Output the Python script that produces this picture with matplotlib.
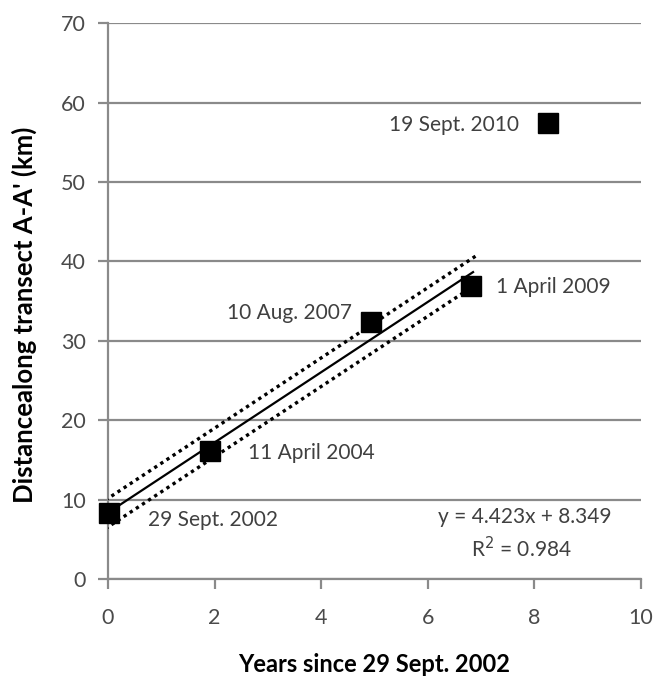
import matplotlib
matplotlib.use("Agg")
import matplotlib.pyplot as plt
import numpy as np

plt.rcParams['font.family'] = ['Lato', 'DejaVu Sans']

years = [0.02, 1.91, 4.93, 6.81, 8.25]
distance = [8.3, 16.1, 32.4, 36.9, 57.4]
dates = ["29 Sept. 2002", "11 April 2004", "10 Aug. 2007", "1 April 2009", "19 Sept. 2010"]
slope = 4.423
intercept = 8.349
r2 = 0.984
fit_x = [0.0, 6.85]
band_offset = 1.8
band_x = [-0.05, 6.9]

fig = plt.figure(figsize=(6.56, 6.8), dpi=100)
ax = fig.add_axes([0.1646, 0.1485, 0.977 - 0.1646, 0.966 - 0.1485])

grey = '#8a8a8a'
txt = '#404040'
ax.set_xlim(0, 10)
ax.set_ylim(0, 70)
ax.set_xticks(np.arange(0, 11, 2))
ax.set_yticks(np.arange(0, 71, 10))
ax.yaxis.grid(True, color=grey, linewidth=1.6)
ax.set_axisbelow(True)
for s in ['top', 'right']:
    ax.spines[s].set_visible(False)
for s in ['left', 'bottom']:
    ax.spines[s].set_color(grey)
    ax.spines[s].set_linewidth(1.6)
ax.tick_params(axis='both', direction='out', length=7, width=1.6, color=grey,
               labelsize=15.5, labelcolor='#4a4a4a')
ax.tick_params(axis='x', pad=14)
ax.tick_params(axis='y', pad=9)

fx = np.array(fit_x)
ax.plot(fx, slope * fx + intercept, color='black', linewidth=1.6, zorder=3)
bx = np.array(band_x)
ax.plot(bx, slope * bx + intercept + band_offset, color='black', linestyle=(0, (1, 1.2)), linewidth=2.4, zorder=3)
ax.plot(bx, slope * bx + intercept - band_offset, color='black', linestyle=(0, (1, 1.2)), linewidth=2.4, zorder=3)

ax.plot(years, distance, linestyle='none', marker='s', markersize=14, color='black', zorder=4, clip_on=False)

label_pos = [(0.75, 7.4, 'left'), (2.63, 15.9, 'left'), (4.58, 33.5, 'right'),
             (7.28, 36.8, 'left'), (7.72, 57.2, 'right')]
for (lx, ly, ha), d in zip(label_pos, dates):
    ax.text(lx, ly, d, ha=ha, va='center', fontsize=15, color=txt)

ax.text(7.82, 7.8, f"y = {slope:.3f}x + {intercept:.3f}", ha='center', va='center', fontsize=15, color=txt)
ax.text(7.75, 3.8, f"R$^2$ = {r2:.3f}", ha='center', va='center', fontsize=15, color=txt)

fig.text(374 / 656, 1 - 664 / 680, "Years since 29 Sept. 2002", fontsize=17, fontweight='bold',
         ha='center', va='center')
fig.text(24 / 656, 1 - 315 / 680, "Distancealong transect A-A' (km)", fontsize=18.5, fontweight='bold',
         ha='center', va='center', rotation=90)

fig.savefig("out.png", dpi=100)
